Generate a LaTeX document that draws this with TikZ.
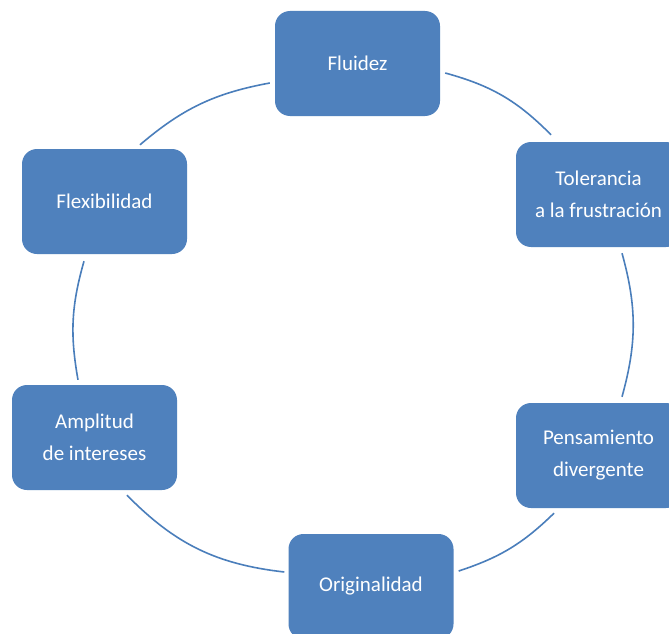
\documentclass[tikz,border=0pt]{standalone}
\usepackage{fontspec}
\setmainfont{Carlito}
\usetikzlibrary{calc}
\definecolor{boxblue}{HTML}{4F81BD}
\definecolor{lineblue}{HTML}{4A7EBB}
\tikzset{
  cyclebox/.style={fill=boxblue, draw=none, rounded corners=15pt,
    minimum width=165pt, minimum height=105pt, inner sep=0pt,
    text=white, align=center, font=\fontsize{21}{32}\selectfont},
  cyclearc/.style={draw=lineblue, line width=1.6pt}
}
\begin{document}
\begin{tikzpicture}[x=1pt,y=-1pt]
\clip (0,0) rectangle (669,634);
\fill[white] (0,0) rectangle (669,634);
\node[cyclebox] (fl)  at (357.5,63.5)  {Fluidez};
\node[cyclebox] (tol) at (598.5,194.5) {Tolerancia\\a la frustración};
\node[cyclebox] (pen) at (598.5,455.5) {Pensamiento\\divergente};
\node[cyclebox] (ori) at (371,586.5)   {Originalidad};
\node[cyclebox] (amp) at (94.5,437.5)  {Amplitud\\de intereses};
\node[cyclebox] (flx) at (104.5,201.5) {Flexibilidad};
\draw[cyclearc] ($(fl.east)+(5,9.5)$)    to[bend left=15]   ($(tol.north)+(-47.5,-7)$);
\draw[cyclearc] ($(tol.south)+(23.5,6)$) to[bend left=15.5] ($(pen.north)+(23.5,-6)$);
\draw[cyclearc] ($(pen.south)+(-44.5,5)$) to[bend left=13]  ($(ori.east)+(5,-15.5)$);
\draw[cyclearc] ($(ori.west)+(-4,-14.5)$) to[bend left=19.5] ($(amp.south)+(32.5,5)$);
\draw[cyclearc] ($(amp.north)+(-16.5,-5)$) to[bend left=13] ($(flx.south)+(-20.5,7)$);
\draw[cyclearc] ($(flx.north)+(35.5,-4)$) to[bend left=15]  ($(fl.west)+(-5,19.5)$);
\end{tikzpicture}
\end{document}
